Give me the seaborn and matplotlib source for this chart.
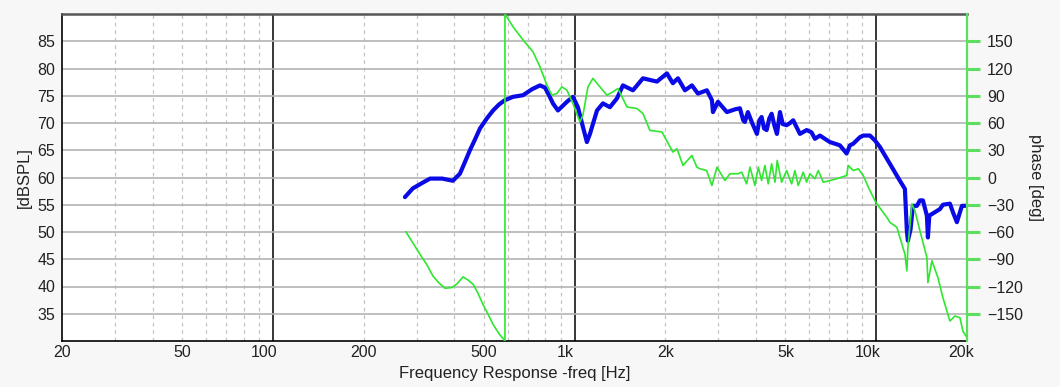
import numpy as np
import matplotlib
matplotlib.use("Agg")
import matplotlib.pyplot as plt
import seaborn as sns
from matplotlib.transforms import ScaledTranslation

sns.set_style("white")
plt.rcParams['font.family'] = ['Liberation Sans', 'DejaVu Sans']
plt.rcParams['axes.unicode_minus'] = True

# SPL magnitude (blue)
spl_freq = [274, 291, 315, 332, 364, 395, 417, 433, 450, 468, 486, 513, 537, 562, 588,
            625, 675, 723, 768, 798, 823,
            848, 881, 944, 988, 1026, 1066, 1099, 1125, 1187, 1242, 1310, 1382,
            1447, 1562, 1686, 1876, 2024, 2118, 2202, 2323, 2450, 2565, 2746,
            2854, 2877, 2988, 3200, 3400, 3534, 3624, 3670, 3756, 3880, 4024,
            4100, 4170, 4250, 4334, 4420, 4502, 4600, 4688, 4798, 4900, 5048,
            5180, 5308, 5450, 5588, 5880, 6100, 6266, 6508, 6800, 7026, 7580,
            7980, 8184, 8392, 8832, 9058, 9318, 9532, 9904, 10288, 11106, 11984,
            12450, 12640, 12738, 13000, 13232, 13646, 13962, 14284, 14726, 14840,
            15000, 15302, 16264, 16640, 17554, 18000, 18514, 19240, 19684, 20000]
spl_db = [56.4, 58.0, 59.1, 59.8, 59.8, 59.4, 60.7, 62.8, 65.0, 67.0, 69.0, 70.9, 72.3, 73.4, 74.2,
          74.8, 75.1, 76.2, 76.9, 76.5, 75.1,
          73.6, 72.3, 73.9, 74.8, 72.9, 69.3, 66.5, 68.0, 72.3, 73.6, 72.9, 74.5,
          76.9, 76.0, 78.2, 77.6, 79.1, 77.3, 78.2, 76.0, 76.9, 75.4, 76.0,
          74.2, 72.0, 73.9, 72.0, 72.5, 72.7, 70.5, 70.2, 72.0, 70.0, 68.0,
          70.5, 71.1, 69.0, 68.7, 70.8, 71.7, 69.5, 68.0, 72.0, 69.8, 69.6,
          70.0, 70.5, 69.2, 68.0, 68.7, 68.3, 67.1, 67.7, 67.0, 66.5, 65.9,
          64.4, 65.9, 66.2, 67.4, 67.7, 67.7, 67.7, 66.8, 65.6, 62.5, 59.4,
          57.9, 50.2, 48.4, 50.5, 54.8, 54.8, 55.8, 55.8, 53.0, 49.0,
          53.0, 53.3, 54.2, 55.0, 55.2, 53.5, 51.8, 54.8, 54.8, 54.8]

# phase (green), wraps from -180 to +180 near 588 Hz
ph_freq = [276, 291, 307, 324, 339, 355, 372, 392, 408, 427, 443, 461, 478, 497, 516,
           537, 562, 588, 588, 625, 675, 728, 768,
           810, 842, 874, 908, 944, 988, 1042, 1066, 1108, 1151, 1214, 1281, 1341,
           1393, 1492, 1610, 1686, 1778, 1949, 2118, 2186, 2288, 2450, 2544, 2604,
           2740, 2854, 2966, 3152, 3274, 3482, 3580, 3720, 3816, 3964, 4066, 4170,
           4276, 4386, 4502, 4618, 4698, 4858, 5048, 5244, 5378, 5516, 5730, 5880,
           6030, 6266, 6426, 6676, 7026, 7394, 7980, 8078, 8392, 8720, 9058, 9532,
           9904, 10056, 10446, 10852, 11106, 11714, 11984, 12450, 12640, 12738,
           13132, 13438, 13962, 14726, 14840, 15302, 16020, 16640, 17554, 18240,
           18950, 19384, 19836]
ph_deg = [-59.7, -71.8, -84.3, -96.0, -108.3, -116.0, -121.9, -121.2, -117.0, -109.4,
          -112.7, -117.5, -127.0, -139.6, -150.0, -161.7, -172.0, -180, 180,
          166.1, 151.4, 138.5, 121.9, 101.7, 90.6, 92.5, 99.8, 96.1, 81.4, 61.1, 68.5,
          99.8, 109.1, 99.8, 90.6, 94.3, 98.0, 77.7, 75.9, 70.4, 51.9, 50.1, 28.0, 31.7,
          13.3, 24.3, 11.4, 9.6, 7.7, -8.8, 11.4, -3.3, 4.1, 4.1, 5.9, -7.0, 11.4, -8.8,
          11.4, -3.3, 13.3, -7.0, 15.1, -5.2, 18.8, -5.2, 7.7, -7.0, 7.7, -8.8, 5.9,
          -5.2, 4.1, -1.4, 7.7, -5.2, -3.3, -1.4, 2.2, 13.3, 7.7, 9.6, 2.2, -14.4,
          -25.4, -29.1, -36.5, -43.9, -49.4, -54.9, -66.0, -84.3, -102.8, -77.0,
          -29.1, -36.5, -58.6, -88.1, -115.7, -91.7, -110.2, -132.3, -158.0, -152.5,
          -154.4, -169.1, -174.6]

xtick_vals = [20, 50, 100, 200, 500, 1000, 2000, 5000, 10000, 20000]
xtick_labels = ['20', '50', '100', '200', '500', '1k', '2k', '5k', '10k', '20k']
minor_grid = [30, 40, 50, 60, 70, 80, 90, 200, 300, 400, 500, 600, 700, 800, 900,
              2000, 3000, 4000, 5000, 6000, 7000, 8000, 9000]
decade_grid = [100, 1000, 10000]
spl_ticks = [35, 40, 45, 50, 55, 60, 65, 70, 75, 80, 85]
ph_ticks = [-150, -120, -90, -60, -30, 0, 30, 60, 90, 120, 150]

blue = '#0a0ae6'
green = '#2ee82e'
green_ax = '#5ede5e'
txt = '#222222'

fig = plt.figure(figsize=(10.6, 3.87), dpi=100, facecolor='#f7f7f7')
ax = fig.add_axes([62 / 1060, 1 - 341 / 387, 905 / 1060, 327 / 387])
ax.set_facecolor('white')
ax.set_xscale('log')
ax.set_xlim(20, 20000)
ax.set_ylim(30, 90)

# grid
for f in minor_grid:
    ax.axvline(f, color='#c4c4c4', lw=0.9, ls=(0, (3, 3)), zorder=0.5)
for f in decade_grid:
    ax.axvline(f, color='black', lw=1.1, zorder=0.6)
for v in spl_ticks:
    ax.axhline(v, color='#b4b4b4', lw=1.2, zorder=0.7)

sns.lineplot(x=spl_freq, y=spl_db, ax=ax, color=blue, linewidth=3.0,
             estimator=None, sort=False, zorder=3)

ax2 = ax.twinx()
ax2.set_ylim(-180, 180)
sns.lineplot(x=ph_freq, y=ph_deg, ax=ax2, color=green, linewidth=1.2,
             estimator=None, sort=False, zorder=3)
ax2.set_xlim(20, 20000)

# axes cosmetics
ax.set_xticks(xtick_vals)
ax.set_xticklabels(xtick_labels)
ax.xaxis.set_minor_locator(matplotlib.ticker.NullLocator())
ax.set_yticks(spl_ticks)
ax.tick_params(axis='both', length=0, labelsize=11.5, labelcolor=txt)
ax.tick_params(axis='x', pad=3)
ax.tick_params(axis='y', pad=5)

ax2.set_yticks(ph_ticks)
ax2.tick_params(axis='y', length=9.5, width=2.2, color=green_ax, direction='out',
                labelsize=11.5, labelcolor=txt, pad=5)

for s in ['left', 'bottom']:
    ax.spines[s].set_color('black')
    ax.spines[s].set_linewidth(1.2)
ax.spines['top'].set_color('#555555')
ax.spines['top'].set_linewidth(1.8)
ax.spines['right'].set_visible(False)
ax2.spines['right'].set_color(green_ax)
ax2.spines['right'].set_linewidth(1.6)
for s in ['left', 'bottom', 'top']:
    ax2.spines[s].set_visible(False)

# some tick labels sit left of their tick in the original
shift = {'100': -9, '1k': -9, '10k': -9, '20k': -6}
for lab in ax.get_xticklabels():
    dx = shift.get(lab.get_text())
    if dx:
        lab.set_transform(lab.get_transform() + ScaledTranslation(dx / 100, 0, fig.dpi_scale_trans))

ax.set_xlabel('Frequency Response -freq [Hz]', fontsize=12, color=txt)
ax.xaxis.set_label_coords(0.5, -0.075)
ax.set_ylabel('[dBSPL]', fontsize=12, color=txt)
ax.yaxis.set_label_coords(-0.033, 0.5)
ax2.set_ylabel('phase [deg]', fontsize=12, color=txt, rotation=270, va='bottom')
ax2.yaxis.set_label_coords(1.067, 0.5)

fig.savefig('out.png', dpi=100, facecolor=fig.get_facecolor())
